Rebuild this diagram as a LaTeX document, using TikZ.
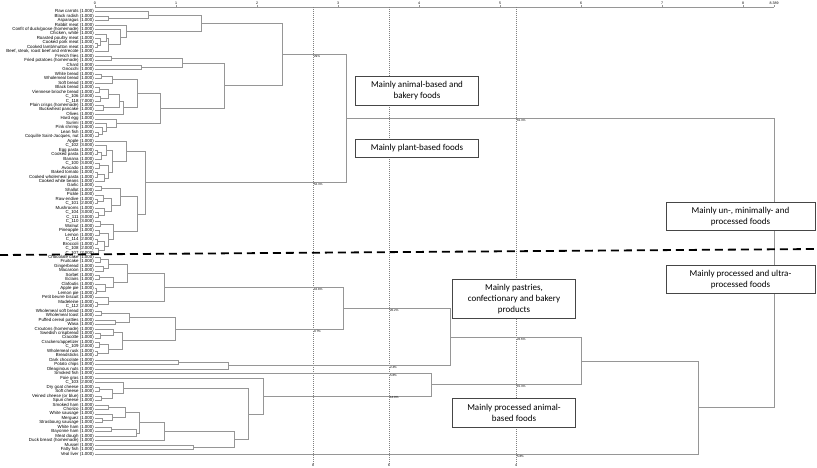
\documentclass[tikz,border=0pt]{standalone}
\usepackage{fontspec}
\setmainfont{Liberation Sans}
\newfontfamily\boxfont{Carlito}
\usepackage{xcolor}
\usetikzlibrary{calc}

\definecolor{branchgray}{RGB}{150,150,150}
\definecolor{boxgray}{RGB}{70,70,70}

\begin{document}
\begin{tikzpicture}[
    x=1pt, y=-1pt,
    leaf/.style={anchor=east, inner sep=0pt, inner xsep=1pt, font=\fontsize{4.4}{4.4}\selectfont},
    branch/.style={draw=branchgray, line width=0.5pt},
    pct/.style={anchor=north west, inner sep=0.8pt, font=\fontsize{3}{3}\selectfont},
    ticklabel/.style={inner sep=0pt, font=\fontsize{3.6}{3.6}\selectfont},
    cutline/.style={draw=gray, line width=0.4pt, dash pattern=on 1pt off 1pt},
    sepline/.style={draw=black, line width=1.8pt, dash pattern=on 8pt off 5pt},
    group/.style={draw=boxgray, line width=1pt, fill=white, align=center, inner sep=2pt,
        font=\boxfont\fontsize{9}{11}\selectfont}
]
    \useasboundingbox (0,0) rectangle (817,468);

    % Distance axis
    \draw[branchgray, line width=0.4pt] (95,7) -- (774,7);
    \foreach \d in {0,...,8} {
        \draw[branchgray, line width=0.4pt] ({95+81*\d},7) -- ++(0,-1.5);
        \node[ticklabel] (t\d) at ({95+81*\d},3) {\d};
    }
    \draw[branchgray, line width=0.4pt] (774,7) -- ++(0,-1.5);
    \node[ticklabel] (tmax) at (774,3) {8.389};

    % Cut levels
    \coordinate (cut8) at (313,7);
    \coordinate (cut6) at (389,7);
    \coordinate (cut4) at (516,7);
    \node[ticklabel] (k8) at (313,465) {8};
    \node[ticklabel] (k6) at (389,465) {6};
    \node[ticklabel] (k4) at (516,465) {4};
    \draw[cutline] (cut8) -- (k8.north);
    \draw[cutline] (cut6) -- (k6.north);
    \draw[cutline] (cut4) -- (k4.north);

    % Leaves
    \foreach \lbl [count=\i from 0] in {
        Raw carrots (1.000), Black radish (1.000), Asparagus (1.000), Rabbit meat (1.000),
        {Confit of duck/goose (homemade) (1.000)}, {Chicken, white (1.000)},
        Roasted poultry meat (1.000), Cooked pork meat (1.000), {Cooked lamb/mutton meat (1.000)},
        {Beef, steak, roast beef and entrecote (1.000)}, French fries (1.000),
        Fried potatoes (homemade) (1.000), Chard (1.000), Gnocchi (1.000), White bread (1.000),
        Wholemeal bread (1.000), Soft bread (1.000), Black bread (1.000),
        Viennese brioche bread (1.000), C\_106 (2.000), C\_118 (7.000),
        Plain crisps (homemade) (1.000), Buckwheat pancake (1.000), Olives (1.000),
        Hard egg (1.000), Surimi (1.000), Pink shrimp (1.000), Lean fish (1.000),
        {Coquille Saint-Jacques, nut (1.000)}, Apple (1.000), C\_102 (3.000), Egg pasta (1.000),
        Cooked pasta (1.000), Banana (1.000), C\_100 (3.000), Avocado (1.000),
        Baked tomato (1.000), Cooked wholemeal pasta (1.000), Cooked white beans (1.000),
        Garlic (1.000), Shallot (1.000), Pickle (1.000), Raw endive (1.000), C\_101 (2.000),
        Mushrooms (1.000), C\_104 (3.000), C\_111 (3.000), C\_110 (3.000), Walnut (1.000),
        Pineapple (1.000), Lemon (1.000), C\_114 (2.000), Broccoli (1.000), C\_108 (2.000),
        C\_107 (2.000), Chocolate cake (1.000), Fruitcake (1.000), Gingerbread (1.000),
        Macaroon (1.000), Sorbet (1.000), Eclairs (1.000), Clafoutis (1.000), Apple pie (1.000),
        Lemon pie (1.000), Petit beurre biscuit (1.000), Madeleine (1.000), C\_112 (2.000),
        Wholemeal soft bread (1.000), Wholemeal toast (1.000), Puffed cereal patties (1.000),
        Wasa (1.000), Croutons (homemade) (1.000), Swedish crispbread (1.000), Cracotte (1.000),
        {Crackers/appetizer (1.000)}, C\_109 (2.000), Wholemeal rusk (1.000), Breadsticks (1.000),
        Dark chocolate (1.000), Potato chips (1.000), Oleaginous nuts (1.000), Smoked fish (1.000),
        Foie gras (1.000), C\_103 (2.000), Dry goat cheese (1.000), Soft cheese (1.000),
        Veined cheese (or blue) (1.000), Spun cheese (1.000), Smoked ham (1.000), Chorizo (1.000),
        White sausage (1.000), Merguez (1.000), Strasbourg sausage (1.000), White ham (1.000),
        Bayonne ham (1.000), Meat dough (1.000), Duck breast (homemade) (1.000), Mussel (1.000),
        Fatty fish (1.000), Veal liver (1.000)}
        \node[leaf] (l\i) at (95,{11.5+4.47*\i}) {\lbl};

    % Merges: name / distance (x) / child / child
    \foreach \nm/\xx/\ca/\cb in {
        a1/108/l1/l2, a2/148/l0/a1,
        b1/97/l7/l8, b2/100/l6/b1, b3/106/l5/b2, b4/108.5/b3/l9, b5/120/l4/b4, b6/126.7/l3/b5,
        ab/201/a2/b6,
        c1/111.7/l10/l11, c2/141/l12/l13, c3/182.7/c1/c2,
        d1/101/l14/l15, d2/112.7/d1/l16,
        e1/99/l17/l18, e2/100/l19/l20, e3/108/e1/e2, e4/103/l21/l22, g1/119/e3/e4, g2/123.7/g1/l23,
        dd1/137.7/d2/g2,
        h4/98/l27/l28, h3/102/l26/h4, h2/106/l25/h3, dd2/116.7/l24/h2,
        dd/160/dd1/dd2, cd/224/c3/dd, abcd/282/ab/cd,
        j1/97/l31/l32, j2/101/j1/l33, q1/106/l30/j2,
        k1/99/l34/l35, k2a/97/l36/l37, k2/104/k2a/l38, q2/108/k1/k2,
        pp1b/112.7/q1/q2, pp1/126.7/l29/pp1b,
        r1/101/l39/l40, s1a/97/l42/l43, s1/103/l41/s1a, s2a/98/l45/l46, s2/104/l44/s2a,
        r2/111/s1/s2, pp2a/120/r1/r2,
        t1/100/l47/l48, u1/99/l49/l50, u2a/97/l51/l52, u2b/98/l53/l54, u2/104/u2a/u2b,
        t2/108/u1/u2, pp2b/113.3/t1/t2,
        pp2/137.7/pp2a/pp2b, pp/145/pp1/pp2, top/346.7/abcd/pp,
        v1/100/l55/l56, v2/103/l57/l58, v3/108/v1/v2, v4/99/l59/l60, v5/96/l62/l63,
        v6/105/l61/v5, v7/113/v4/v6, v8/127.7/v3/v7, v9/97/l65/l66, v10/108.7/l64/v9,
        pastry/164.3/v8/v10,
        w1/101/l67/l68, w2/115/l69/l70, w3/129.3/w1/w2, w4/100/l72/l73, w5/113/l71/w4,
        w6/99/l74/l75, w7/97/l76/l77, w8/108/w6/w7, w9/122/w5/w8,
        bread/175.3/w3/w9, pa/343.3/pastry/bread,
        x1/178.3/l78/l79, pb/228.3/x1/l80, b1a/450/pa/pb,
        y1/99/l84/l85, y2/101/l86/l87, y3/112/y1/y2, cheese/123.3/l83/y3,
        z1/108/l88/l89, z2/102/l91/l92, z3/112/l90/z2, z4/125/z1/z3,
        z5/111/l93/l94, z6/136/z5/l95, z7/139/z4/z6, z8/164.3/z7/l96, z9/193.3/l97/l98,
        meats/234.3/z8/z9, mm2/248.3/cheese/meats, mm/263.3/l82/mm2,
        b1b/431/l81/mm, bb1/581.7/b1a/b1b, bb/698/bb1/l99, root/774/top/bb} {
        \coordinate (h\nm) at ($(\ca)!0.5!(\cb)$);
        \coordinate (x\nm) at (\xx,0);
        \coordinate (\nm) at (x\nm |- h\nm);
        \draw[branch] (\ca) -| (\nm);
        \draw[branch] (\cb) -| (\nm);
    }

    % Share of foods at each cut
    \foreach \nm/\cut/\src/\txt in {
        q1/cut8/abcd/29\%, q2/cut8/pp/52.3\%, q3/cut4/top/61.3\%,
        q4/cut8/pastry/10.8\%, q5/cut8/bread/9.7\%, q6/cut6/pa/20.2\%,
        q7/cut6/pb/2.4\%, q8/cut6/l81/5.8\%, q9/cut6/mm/14.9\%,
        q10/cut4/b1a/22.6\%, q11/cut4/b1b/15.3\%, q12/cut4/l99/5.8\%}
        \node[pct] (\nm) at (\cut |- \src) {\txt};

    % Split between the two main clusters
    \coordinate (sepL) at (0,255);
    \coordinate (sepR) at (817,249);
    \draw[sepline] (sepL) -- (sepR);

    % Cluster names
    \node[group, minimum width=122.6, minimum height=28.3] (gAnimal) at (417,90.9) {Mainly animal-based and\\bakery foods};
    \node[group, minimum width=122.6, minimum height=18.4] (gPlant) at (417,148.5) {Mainly plant-based foods};
    \node[group, minimum width=149, minimum height=28.7] (gUnproc) at (740.5,216.6) {Mainly un-, minimally- and\\processed foods};
    \node[group, minimum width=149, minimum height=28.3] (gUltra) at (740.5,279.2) {Mainly processed and ultra-\\processed foods};
    \node[group, minimum width=122.6, minimum height=39] (gPastry) at (514,298.8) {Mainly pastries,\\confectionary and bakery\\products};
    \node[group, minimum width=122.6, minimum height=28.6] (gProcAnimal) at (514,413) {Mainly processed animal-\\based foods};
\end{tikzpicture}
\end{document}
